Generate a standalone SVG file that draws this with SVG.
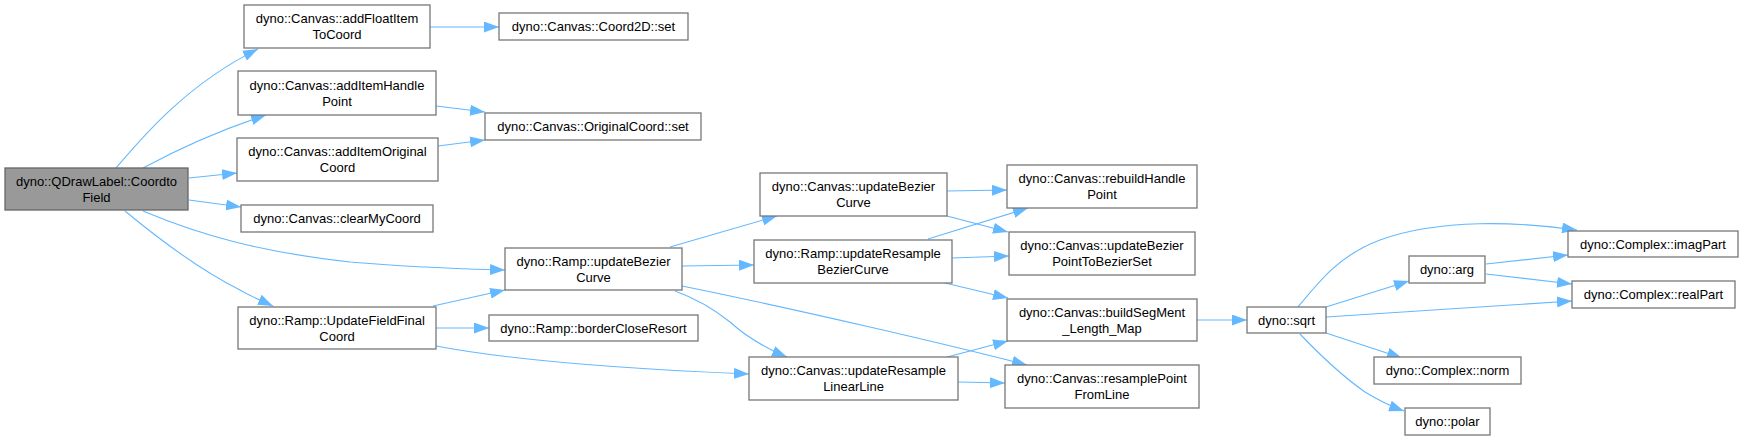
<svg xmlns="http://www.w3.org/2000/svg" width="1743" height="440" viewBox="0 0 1743 440">
<defs>
<style>
.n rect{fill:#ffffff;stroke:#777777;stroke-width:1.3}
.main rect{fill:#999999;stroke:#666666;stroke-width:1.3}
text{font-family:"Liberation Sans",Arial,sans-serif;font-size:13px;fill:#000000;text-anchor:middle}
.e path{fill:none;stroke:#63b8ff;stroke-width:1.1;marker-end:url(#ah)}
</style>
<marker id="ah" markerUnits="userSpaceOnUse" markerWidth="15" markerHeight="11" refX="15" refY="5.5" orient="auto">
<path d="M0,0 L15,5.5 L0,11 z" fill="#63b8ff"/>
</marker>
</defs>
<rect width="1743" height="440" fill="#ffffff"/>
<g id="edges" class="e">
<path d="M116,168 C140,140 185,85 258,49"/>
<path d="M143,168 C180,148 220,130 266,115"/>
<path d="M189,178 L237,173"/>
<path d="M189,200 L241,207"/>
<path d="M143,211 C200,235 260,252 350,262 C420,268 470,269 505,270"/>
<path d="M125,211 C160,240 200,270 240,290 C250,296 262,301 273,306"/>
<path d="M430,27 L499,27"/>
<path d="M436,106 L485,112"/>
<path d="M438,146 L485,140"/>
<path d="M433,306 L505,290"/>
<path d="M436,328 L489,328"/>
<path d="M436,346 C520,362 650,370 749,374"/>
<path d="M670,247 L777,216"/>
<path d="M682,266 L754,265"/>
<path d="M682,286 C800,310 950,345 1027,365"/>
<path d="M675,291 C700,300 715,310 730,322 C750,340 770,350 787,357"/>
<path d="M947,191 L1007,190"/>
<path d="M947,216 L1008,232"/>
<path d="M928,239 L1028,208"/>
<path d="M952,258 L1009,256"/>
<path d="M945,283 L1008,298"/>
<path d="M947,357 L1008,341"/>
<path d="M958,382 L1005,383"/>
<path d="M1197,320 L1247,320"/>
<path d="M1298,307 C1320,280 1340,255 1380,240 C1440,218 1520,222 1577,230"/>
<path d="M1326,307 L1409,281"/>
<path d="M1326,317 L1572,301"/>
<path d="M1326,333 L1402,358"/>
<path d="M1300,334 C1320,355 1345,378 1365,392 C1378,400 1390,406 1404,411"/>
<path d="M1486,264 L1568,255"/>
<path d="M1486,274 L1572,284"/>
</g>
<g id="node_CoordtoField" class="main"><rect x="5" y="168" width="183" height="42"/><text x="96.5" y="185.6">dyno::QDrawLabel::Coordto</text><text x="96.5" y="201.6">Field</text></g>
<g id="node_addFloatItemToCoord" class="n"><rect x="244" y="5" width="186" height="43"/><text x="337" y="23">dyno::Canvas::addFloatItem</text><text x="337" y="39">ToCoord</text></g>
<g id="node_addItemHandlePoint" class="n"><rect x="238" y="71" width="198" height="44"/><text x="337" y="89.6">dyno::Canvas::addItemHandle</text><text x="337" y="105.6">Point</text></g>
<g id="node_addItemOriginalCoord" class="n"><rect x="237" y="138" width="201" height="43"/><text x="337.5" y="156">dyno::Canvas::addItemOriginal</text><text x="337.5" y="172">Coord</text></g>
<g id="node_clearMyCoord" class="n"><rect x="241" y="205" width="192" height="27"/><text x="337" y="223">dyno::Canvas::clearMyCoord</text></g>
<g id="node_UpdateFieldFinalCoord" class="n"><rect x="238" y="307" width="198" height="42"/><text x="337" y="324.6">dyno::Ramp::UpdateFieldFinal</text><text x="337" y="340.6">Coord</text></g>
<g id="node_Coord2D_set" class="n"><rect x="499" y="13" width="189" height="27"/><text x="593.5" y="31">dyno::Canvas::Coord2D::set</text></g>
<g id="node_OriginalCoord_set" class="n"><rect x="485" y="113" width="216" height="27"/><text x="593" y="131">dyno::Canvas::OriginalCoord::set</text></g>
<g id="node_Ramp_updateBezierCurve" class="n"><rect x="505" y="248" width="177" height="42"/><text x="593.5" y="265.6">dyno::Ramp::updateBezier</text><text x="593.5" y="281.6">Curve</text></g>
<g id="node_borderCloseResort" class="n"><rect x="489" y="315" width="209" height="26"/><text x="593.5" y="332.6">dyno::Ramp::borderCloseResort</text></g>
<g id="node_Canvas_updateBezierCurve" class="n"><rect x="760" y="173" width="187" height="43"/><text x="853.5" y="191">dyno::Canvas::updateBezier</text><text x="853.5" y="207">Curve</text></g>
<g id="node_updateResampleBezierCurve" class="n"><rect x="754" y="240" width="198" height="43"/><text x="853" y="258">dyno::Ramp::updateResample</text><text x="853" y="274">BezierCurve</text></g>
<g id="node_updateResampleLinearLine" class="n"><rect x="749" y="357" width="209" height="43"/><text x="853.5" y="375">dyno::Canvas::updateResample</text><text x="853.5" y="391">LinearLine</text></g>
<g id="node_rebuildHandlePoint" class="n"><rect x="1007" y="165" width="190" height="43"/><text x="1102" y="183">dyno::Canvas::rebuildHandle</text><text x="1102" y="199">Point</text></g>
<g id="node_updateBezierPointToBezierSet" class="n"><rect x="1009" y="232" width="186" height="43"/><text x="1102" y="250">dyno::Canvas::updateBezier</text><text x="1102" y="266">PointToBezierSet</text></g>
<g id="node_buildSegMent_Length_Map" class="n"><rect x="1007" y="299" width="190" height="42"/><text x="1102" y="316.6">dyno::Canvas::buildSegMent</text><text x="1102" y="332.6">_Length_Map</text></g>
<g id="node_resamplePointFromLine" class="n"><rect x="1005" y="365" width="194" height="43"/><text x="1102" y="383">dyno::Canvas::resamplePoint</text><text x="1102" y="399">FromLine</text></g>
<g id="node_sqrt" class="n"><rect x="1247" y="307" width="79" height="26"/><text x="1286.5" y="324.6">dyno::sqrt</text></g>
<g id="node_imagPart" class="n"><rect x="1568" y="231" width="170" height="26"/><text x="1653" y="248.6">dyno::Complex::imagPart</text></g>
<g id="node_arg" class="n"><rect x="1409" y="256" width="76" height="27"/><text x="1447" y="274">dyno::arg</text></g>
<g id="node_realPart" class="n"><rect x="1572" y="281" width="163" height="27"/><text x="1653.5" y="299">dyno::Complex::realPart</text></g>
<g id="node_norm" class="n"><rect x="1374" y="357" width="147" height="27"/><text x="1447.5" y="375">dyno::Complex::norm</text></g>
<g id="node_polar" class="n"><rect x="1405" y="408" width="85" height="27"/><text x="1447.5" y="426">dyno::polar</text></g>
</svg>
